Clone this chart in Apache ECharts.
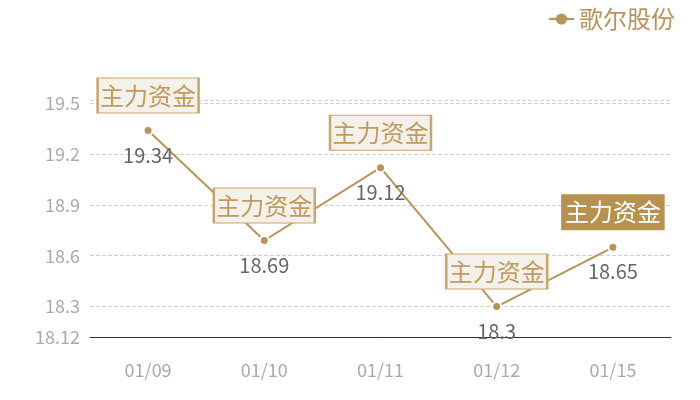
<!DOCTYPE html>
<html>
<head>
<meta charset="utf-8">
<script src="https://cdn.jsdelivr.net/npm/echarts@6/dist/echarts.min.js"></script>
<style>
    html, body { margin: 0; padding: 0; background: #fff; }
    #chart { width: 700px; height: 400px; }
</style>
</head>
<body>
<div id="chart"></div>
<script>
    // 数据
    var seriesName = '歌尔股份';
    var categories = ['01/09', '01/10', '01/11', '01/12', '01/15'];
    var prices = [19.34, 18.69, 19.12, 18.3, 18.65];
    var flagText = '主力资金';
    var highlightIndex = 4;
    var yMin = 18.12;
    var yMax = 19.52;

    var gold = '#b8935a';
    var font = '"Noto Sans CJK SC", "Noto Sans", sans-serif';

    var flags = categories.map(function (c, i) {
        var hot = i === highlightIndex;
        return {
            coord: [c, prices[i]],
            itemStyle: {
                color: hot ? '#b8914f' : '#f4f0ea',
                borderColor: hot ? '#b8914f' : '#c9a56f',
                borderWidth: 1.5
            },
            label: {
                color: hot ? '#ffffff' : '#c09a5e'
            }
        };
    });

    var option = {
        animation: false,
        textStyle: { fontFamily: font },
        legend: {
            data: [seriesName],
            right: 20,
            top: 2,
            itemWidth: 25,
            itemHeight: 14,
            itemGap: 6,
            itemStyle: { borderWidth: 0 },
            textStyle: {
                color: gold,
                fontSize: 24,
                fontFamily: font
            }
        },
        grid: {
            left: 90,
            right: 29,
            top: 100,
            bottom: 63
        },
        xAxis: {
            type: 'category',
            data: categories,
            axisLine: { lineStyle: { color: '#333', width: 1 } },
            axisTick: { show: false },
            axisLabel: {
                color: '#aaaaaa',
                fontSize: 18,
                margin: 24,
                fontFamily: font
            }
        },
        yAxis: {
            type: 'value',
            min: yMin,
            max: yMax,
            splitNumber: 5,
            axisLine: { show: false },
            axisTick: { show: false },
            axisLabel: {
                color: '#aaaaaa',
                fontSize: 18,
                margin: 10,
                fontFamily: font
            },
            splitLine: {
                lineStyle: { color: '#d0d0d0', type: 'dashed' }
            }
        },
        series: [{
            name: seriesName,
            type: 'line',
            data: prices,
            symbol: 'circle',
            symbolSize: 9,
            lineStyle: { color: gold, width: 2 },
            itemStyle: {
                color: gold,
                borderColor: '#fff',
                borderWidth: 2
            },
            label: {
                show: true,
                position: 'bottom',
                distance: 9,
                color: '#666666',
                fontSize: 20,
                fontFamily: font
            },
            markPoint: {
                symbol: 'rect',
                symbolSize: [101, 35],
                symbolOffset: [0, -35],
                label: {
                    show: true,
                    position: 'inside',
                    formatter: flagText,
                    fontSize: 24,
                    fontFamily: font
                },
                data: flags
            }
        }]
    };

    var myChart = echarts.init(document.getElementById('chart'));
    myChart.setOption(option);
</script>
</body>
</html>
